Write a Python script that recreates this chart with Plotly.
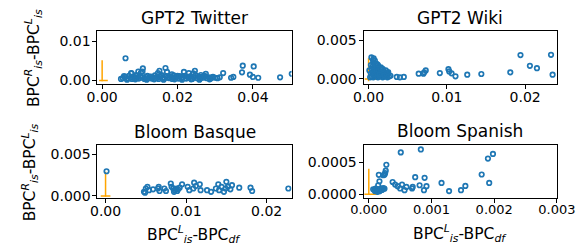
import plotly.graph_objects as go

# ---------------- data ----------------
titles = ["GPT2 Twitter", "GPT2 Wiki", "Bloom Basque", "Bloom Spanish"]

tw_x = [0.0062, 0.0050, 0.0058, 0.0077, 0.0096, 0.0108, 0.0107, 0.0152, 0.0168, 0.0217,
        0.0246, 0.0275, 0.0321, 0.0342, 0.0348, 0.0373, 0.0371, 0.0402, 0.0392, 0.0400,
        0.0414, 0.0472, 0.0503,
        0.0055, 0.0062, 0.0068, 0.0071, 0.0075, 0.0079, 0.0083, 0.0086, 0.0090, 0.0093,
        0.0097, 0.0101, 0.0105, 0.0112, 0.0116, 0.0120, 0.0124, 0.0128, 0.0132, 0.0136,
        0.0140, 0.0144, 0.0147, 0.0150, 0.0154, 0.0157, 0.0161, 0.0165, 0.0170, 0.0174,
        0.0178, 0.0182, 0.0186, 0.0190, 0.0194, 0.0198, 0.0202, 0.0206, 0.0210, 0.0214,
        0.0219, 0.0223, 0.0227, 0.0231, 0.0235, 0.0239, 0.0243, 0.0248, 0.0252, 0.0256,
        0.0260, 0.0264, 0.0268, 0.0272, 0.0278, 0.0283, 0.0288, 0.0294, 0.0300, 0.0306,
        0.0312,
        0.0078, 0.0090, 0.0103, 0.0130, 0.0148, 0.0158, 0.0172, 0.0185, 0.0200, 0.0230,
        0.0242, 0.0262, 0.0272, 0.0292, 0.0066, 0.0088, 0.0118, 0.0138, 0.0163, 0.0192,
        0.0212, 0.0236, 0.0258, 0.0285]
tw_y = [0.0057, 0.0004, 0.0011, 0.0019, 0.0023, 0.0031, 0.0023, 0.0025, 0.0032, 0.0022,
        0.0025, 0.0017, 0.0019, 0.0007, 0.0009, 0.0038, 0.0021, 0.0036, 0.0015, 0.0009,
        0.0007, 0.0008, 0.0017,
        0.0006, 0.0009, 0.0005, 0.0012, 0.0007, 0.0004, 0.0010, 0.0006, 0.0013, 0.0008,
        0.0005, 0.0011, 0.0007, 0.0004, 0.0009, 0.0012, 0.0006, 0.0010, 0.0005, 0.0008,
        0.0013, 0.0006, 0.0010, 0.0004, 0.0009, 0.0012, 0.0007, 0.0005, 0.0011, 0.0008,
        0.0006, 0.0010, 0.0004, 0.0013, 0.0007, 0.0009, 0.0005, 0.0011, 0.0006, 0.0008,
        0.0012, 0.0005, 0.0009, 0.0007, 0.0011, 0.0004, 0.0008, 0.0013, 0.0006, 0.0010,
        0.0005, 0.0009, 0.0007, 0.0011, 0.0006, 0.0008, 0.0005, 0.0009, 0.0007, 0.0006,
        0.0008,
        0.0018, 0.0013, 0.0020, 0.0009, 0.0019, 0.0014, 0.0022, 0.0016, 0.0012, 0.0019,
        0.0018, 0.0014, 0.0011, 0.0008, 0.0002, 0.0003, 0.0002, 0.0003, 0.0002, 0.0003,
        0.0002, 0.0003, 0.0002, 0.0003]

wk_x = [0.00036, 0.00065, 0.00056, 0.00097, 0.0012, 0.00157, 0.0024, 0.0036, 0.0040, 0.0045,
        0.0064, 0.0070, 0.0071, 0.0073, 0.0091, 0.0102, 0.0103, 0.0106, 0.0111, 0.0126,
        0.0144, 0.0181, 0.0194, 0.0206, 0.0215, 0.0233, 0.0235,
        0.0002, 0.0004, 0.0006, 0.0008, 0.0010, 0.0012, 0.0014, 0.0016, 0.0018, 0.0020,
        0.0022, 0.0024, 0.0026, 0.0028, 0.0003, 0.0005, 0.0007, 0.0009, 0.0011, 0.0013,
        0.0015, 0.0017, 0.0019, 0.0021, 0.0023, 0.0025, 0.0001, 0.0004, 0.0007, 0.0010,
        0.0013, 0.0016, 0.0019, 0.0022, 0.0025, 0.0003, 0.0006, 0.0009, 0.0012, 0.0015,
        0.0018, 0.0008, 0.0011, 0.0005, 0.0014, 0.0020]
wk_y = [0.0028, 0.00267, 0.00246, 0.0020, 0.0018, 0.0015, 0.00076, 0.00025, 0.0002, 0.00025,
        0.00068, 0.00068, 0.00085, 0.0011, 0.00076, 0.00127, 0.00097, 0.00072, 0.00034, 0.00055,
        0.00064, 0.00085, 0.0031, 0.0017, 0.0014, 0.00314, 0.00055,
        0.0002, 0.0003, 0.0002, 0.0004, 0.0003, 0.0002, 0.0004, 0.0003, 0.0002, 0.0003,
        0.0004, 0.0002, 0.0003, 0.0004, 0.0007, 0.0009, 0.0008, 0.0010, 0.0007, 0.0009,
        0.0008, 0.0006, 0.0009, 0.0007, 0.0006, 0.0008, 0.0011, 0.0013, 0.0014, 0.0012,
        0.0011, 0.0012, 0.0010, 0.0011, 0.0009, 0.0018, 0.0021, 0.0017, 0.0015, 0.0014,
        0.0013, 0.0024, 0.0019, 0.0016, 0.0006, 0.0005]

bq_x = [0.00012, 0.00477, 0.0050, 0.0052, 0.0054, 0.0059, 0.0065, 0.0066, 0.0067, 0.0073,
        0.0075, 0.0081, 0.0082, 0.0084, 0.0086, 0.0088, 0.0089, 0.0092, 0.0095, 0.0102,
        0.0104, 0.0109, 0.0110, 0.0112, 0.0117, 0.0118, 0.0126, 0.0131, 0.0137, 0.0140,
        0.0141, 0.0147, 0.0149, 0.0150, 0.0152, 0.0155, 0.0157, 0.0166, 0.0180, 0.0182,
        0.0227, 0.0049, 0.0085, 0.0090, 0.0144]
bq_y = [0.00297, 0.0005, 0.0009, 0.0011, 0.0007, 0.0008, 0.0009, 0.0011, 0.0006, 0.0009,
        0.0006, 0.0015, 0.0011, 0.0009, 0.0007, 0.0009, 0.0006, 0.0010, 0.0014, 0.0011,
        0.0007, 0.0009, 0.0016, 0.0012, 0.0014, 0.0007, 0.0007, 0.0005, 0.0009, 0.0014,
        0.0007, 0.0005, 0.0009, 0.0017, 0.0011, 0.0008, 0.0013, 0.0010, 0.0010, 0.0006,
        0.0009, 0.0004, 0.0005, 0.0008, 0.0011]

sp_x = [0.00051, 0.00083, 0.00198, 0.00190, 0.00180, 0.00192, 0.00028, 0.00027, 0.00026, 0.00025,
        0.00023, 0.00016, 0.00017, 0.00015, 0.00038, 0.00042, 0.00046, 0.00050, 0.00053, 0.00057,
        0.00060, 0.00069, 0.00070, 0.00074, 0.00081, 0.00088, 0.00089, 0.00092, 0.00116, 0.00128,
        0.00147, 0.00154,
        0.00007, 0.00009, 0.00011, 0.00013, 0.00015, 0.00017, 0.00019, 0.00021, 0.00023, 0.00025,
        0.00010, 0.00014, 0.00018, 0.00022]
sp_y = [0.000658, 0.000704, 0.000633, 0.000561, 0.000311, 0.000179, 0.000464, 0.000372, 0.000332, 0.000306,
        0.000300, 0.000306, 0.000204, 0.000143, 0.000194, 0.000153, 0.000128, 0.000092, 0.000153, 0.000066,
        0.000117, 0.000092, 0.000117, 0.000270, 0.000143, 0.000066, 0.000260, 0.000128, 0.000179, 0.000051,
        0.000066, 0.000133,
        0.000080, 0.000070, 0.000090, 0.000060, 0.000080, 0.000050, 0.000090, 0.000070, 0.000100, 0.000090,
        0.000050, 0.000040, 0.000060, 0.000080]

# orange error bars: centre (0,0), [x minus, x plus, y minus, y plus]
err_xm = [0.0008, 0.0005, 0.0006, 0.00007]
err_xp = [0.0015, 0.0011, 0.0006, 0.00013]
err_ym = [0.0002, 0.0003, 0.0001, 0.00001]
err_yp = [0.0052, 0.0027, 0.0029, 0.0004]

x_ranges = [[-0.00125, 0.05025], [-0.00064, 0.02407], [-0.00101, 0.0231], [-0.0000833, 0.003002]]
y_ranges = [[-0.001, 0.01258], [-0.00064, 0.00619], [-0.00027, 0.00609], [-0.00005, 0.00078]]
x_tickvals = [[0, 0.02, 0.04], [0, 0.01, 0.02], [0, 0.01, 0.02], [0, 0.001, 0.002, 0.003]]
x_ticktext = [["0.00", "0.02", "0.04"], ["0.00", "0.01", "0.02"], ["0.00", "0.01", "0.02"],
              ["0.000", "0.001", "0.002", "0.003"]]
y_tickvals = [[0, 0.01], [0, 0.005], [0, 0.005], [0, 0.0005]]
y_ticktext = [["0.00", "0.01"], ["0.000", "0.005"], ["0.000", "0.005"], ["0.0000", "0.0005"]]
x_tick_size = [14, 14, 14, 13]

ylabel = "BPC<sup><i>R</i></sup><sub><i>is</i></sub>-BPC<sup><i>L</i></sup><sub><i>is</i></sub>"
xlabel = "BPC<sup><i>L</i></sup><sub><i>is</i></sub>-BPC<sub><i>df</i></sub>"

# ---------------- layout geometry (pixels) ----------------
W, H = 586, 246
boxes = [(80.7, 285.7, 24, 78.3), (361.7, 566, 24, 77.7),
         (80.7, 285.7, 140.7, 195), (361.7, 566, 140, 194.3)]

FONT = "DejaVu Sans"
BLUE = "#1f77b4"
ORANGE = "#ffa500"

xs = [tw_x, wk_x, bq_x, sp_x]
ys = [tw_y, wk_y, bq_y, sp_y]

fig = go.Figure()
layout = dict(width=W, height=H, margin=dict(l=0, r=0, t=0, b=0),
              paper_bgcolor="white", plot_bgcolor="white", showlegend=False,
              font=dict(family=FONT, size=14, color="black"))
annotations = []
for i in range(4):
    sfx = "" if i == 0 else str(i + 1)
    xa, ya = "x" + sfx, "y" + sfx
    fig.add_trace(go.Scatter(
        x=[0], y=[0], mode="markers", marker=dict(size=1, opacity=0),
        error_x=dict(type="data", symmetric=False, array=[err_xp[i]], arrayminus=[err_xm[i]],
                     color=ORANGE, thickness=1.5, width=0),
        error_y=dict(type="data", symmetric=False, array=[err_yp[i]], arrayminus=[err_ym[i]],
                     color=ORANGE, thickness=1.5, width=0),
        xaxis=xa, yaxis=ya, hoverinfo="skip"))
    fig.add_trace(go.Scatter(
        x=xs[i], y=ys[i], mode="markers",
        marker=dict(symbol="circle-open", size=4.5, color=BLUE, line=dict(width=1.7, color=BLUE)),
        xaxis=xa, yaxis=ya))
    x0, x1, y0, y1 = boxes[i]
    common = dict(showline=True, mirror=True, linecolor="black", linewidth=1,
                  ticks="outside", ticklen=4, tickwidth=1, tickcolor="black",
                  showgrid=False, zeroline=False)
    layout["xaxis" + sfx] = dict(domain=[x0 / W, x1 / W], range=x_ranges[i], anchor=ya,
                                 tickvals=x_tickvals[i], ticktext=x_ticktext[i],
                                 tickfont=dict(family=FONT, size=x_tick_size[i]),
                                 ticklabelstandoff=-4, **common)
    layout["yaxis" + sfx] = dict(domain=[1 - y1 / H, 1 - y0 / H], range=y_ranges[i], anchor=xa,
                                 tickvals=y_tickvals[i], ticktext=y_ticktext[i],
                                 tickfont=dict(family=FONT, size=14),
                                 ticklabelstandoff=-1, **common)
    annotations.append(dict(text=titles[i], x=(x0 + x1) / 2 / W, y=1 - (y0 - 13.5) / H,
                            xref="paper", yref="paper", xanchor="center", yanchor="middle",
                            showarrow=False, font=dict(family=FONT, size=17)))

annotations.append(dict(text=ylabel, x=14 / W, y=1 - 51 / H, xref="paper", yref="paper",
                        textangle=-90, xanchor="center", yanchor="middle", showarrow=False,
                        font=dict(family=FONT, size=15.5)))
annotations.append(dict(text=ylabel, x=10 / W, y=1 - 168 / H, xref="paper", yref="paper",
                        textangle=-90, xanchor="center", yanchor="middle", showarrow=False,
                        font=dict(family=FONT, size=15.5)))
annotations.append(dict(text=xlabel, x=183 / W, y=1 - 232 / H, xref="paper", yref="paper",
                        xanchor="center", yanchor="middle", showarrow=False,
                        font=dict(family=FONT, size=15.5)))
annotations.append(dict(text=xlabel, x=464 / W, y=1 - 231 / H, xref="paper", yref="paper",
                        xanchor="center", yanchor="middle", showarrow=False,
                        font=dict(family=FONT, size=15.5)))
layout["annotations"] = annotations
fig.update_layout(**layout)
fig.write_html("out.html")
